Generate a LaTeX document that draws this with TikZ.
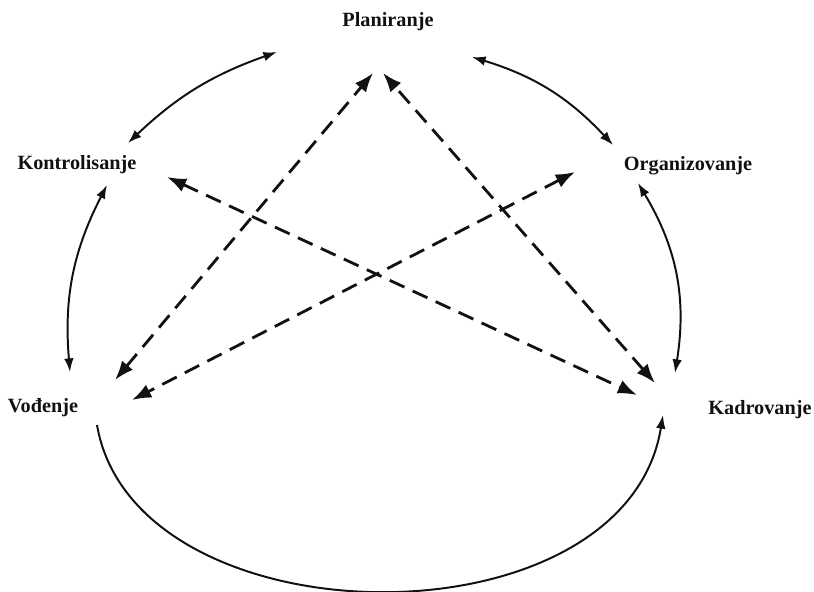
\documentclass[tikz,border=0pt]{standalone}
\usepackage{fontspec}
\setmainfont{Liberation Serif}
\usetikzlibrary{arrows.meta}
\definecolor{ink}{HTML}{111111}

\tikzset{
  funkcija/.style={font=\bfseries\fontsize{14.4}{16}\selectfont,text=ink},
  ciklus/.style={draw=ink,line width=1.4pt,
    {Latex[length=3.4mm,width=2.4mm]}-{Latex[length=3.4mm,width=2.4mm]}},
  veza/.style={draw=ink,line width=2pt,dash pattern=on 11.5pt off 6.5pt,
    {Latex[length=4.8mm,width=3.6mm]}-{Latex[length=4.8mm,width=3.6mm]}}
}

\begin{document}
\begin{tikzpicture}[x=0.25mm,y=0.25mm]
        \useasboundingbox (0,0) rectangle (814,-592);
        \node[funkcija] (plan) at (388,-22) {Planiranje};
        \node[funkcija] (org) at (688,-166) {Organizovanje};
        \node[funkcija] (kad) at (760,-410) {Kadrovanje};
        \node[funkcija] (vod) at (43,-408) {Vođenje};
        \node[funkcija] (kon) at (77,-165) {Kontrolisanje};
        \coordinate (plan-l) at (373,-73);
        \coordinate (plan-d) at (383,-73);
        \coordinate (plan-k) at (277,-52);
        \coordinate (plan-o) at (472,-57);
        \coordinate (org-p) at (613,-145);
        \coordinate (org-k) at (638,-183);
        \coordinate (org-v) at (575,-172);
        \coordinate (kad-o) at (675,-373);
        \coordinate (kad-p) at (655,-383);
        \coordinate (kad-k) at (637,-395);
        \coordinate (kad-v) at (663,-415);
        \coordinate (vod-k) at (70,-372);
        \coordinate (vod-p) at (115,-380);
        \coordinate (vod-o) at (132,-400);
        \coordinate (vod-d) at (97,-425);
        \coordinate (kon-p) at (128,-143);
        \coordinate (kon-v) at (107,-185);
        \coordinate (kon-d) at (167,-177);
        \draw[ciklus] (kon-p) to[bend left=12] (plan-k);
        \draw[ciklus] (plan-o) to[bend left=15] (org-p);
        \draw[ciklus] (org-k) to[bend left=20] (kad-o);
        \draw[ciklus] (kon-v) to[bend right=16] (vod-k);
        \draw[ciklus,-{Latex[length=3.4mm,width=2.4mm]}] (vod-d) .. controls (135,-645) and (625,-650) .. (kad-v);
        \foreach \a/\b in {vod-p/plan-l,kad-p/plan-d,kon-d/kad-k,org-v/vod-o}
          \draw[veza] (\a) -- (\b);
      \end{tikzpicture}
\end{document}
